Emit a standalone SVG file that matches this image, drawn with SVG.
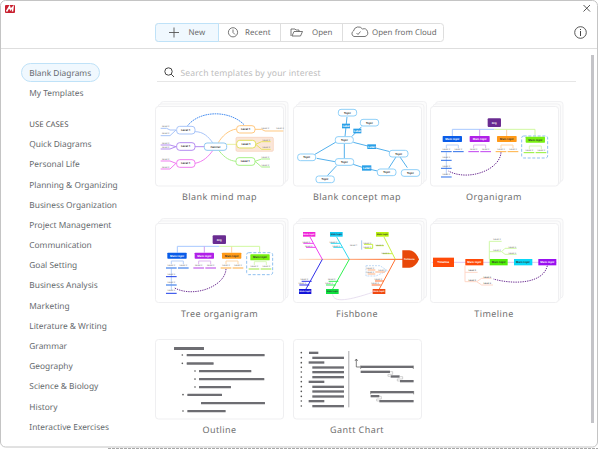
<svg xmlns="http://www.w3.org/2000/svg" width="600" height="449" viewBox="0 0 600 449">
<style>
text{font-family:"Noto Sans","Open Sans","Liberation Sans",sans-serif;text-rendering:geometricPrecision}
.side{font-size:8.35px;fill:#666a6e}
.tab{font-size:7.9px;fill:#6a6a6a;letter-spacing:.05px}
.cap{font-size:9px;fill:#707070;letter-spacing:.42px;text-anchor:middle}
.card{fill:#fff;stroke:#efeff1;stroke-width:1}
.back{fill:#fcfcfc;stroke:#f1f1f3;stroke-width:1}
.ico{fill:none;stroke:#555;stroke-width:1}
.t{font-size:8px;fill:#333;text-anchor:middle;font-weight:700}
.w{font-size:8px;fill:#fff;text-anchor:middle;font-weight:700}
.s{font-size:7px;fill:#777;text-anchor:middle}
.n{fill:#fff;stroke-width:3}
.l{fill:none;stroke-width:3}
.bar{fill:#6d6d72}
</style>
<rect width="600" height="449" fill="#fff"/>
<rect x="0.500" y="0.500" width="597" height="446.500" rx="5" fill="#fff" stroke="#c4c4c4"/>
<path d="M1 48.500H597" stroke="#dedede" stroke-width="1"/>
<path d="M108 448.500H598" stroke="#a8a8a8" stroke-width="1" stroke-dasharray="3 1"/>
<g id="logo"><rect x="5" y="5" width="10" height="8" rx="1" fill="#c8202f"/><path d="M6.500 11.500 9.500 6.500 10.500 9.500 13 7 12.500 11.500" fill="none" stroke="#fff" stroke-width="1.500"/></g>
<g id="close"><path d="M583.500 5 590 11.500M590 5 583.500 11.500" stroke="#444" stroke-width=".9"/></g>
<g id="info"><circle cx="580.500" cy="32.500" r="5.800" fill="none" stroke="#444" stroke-width=".9"/><path d="M580.500 31V36M580.500 29V30" stroke="#444" stroke-width="1"/></g>
<g id="toolbar">
<rect x="155.500" y="23.500" width="288" height="18" rx="3" fill="#fff" stroke="#dedede"/>
<path d="M155.500 26.500a3 3 0 0 1 3-3H218.500V41.500H158.500a3 3 0 0 1-3-3Z" fill="#f0f8fe" stroke="#bfe2f8"/>
<path d="M280.500 23.500V41.500M342.500 23.500V41.500" stroke="#dedede"/>
<path d="M169 32.500H179M174 27.500V37.500" stroke="#555" stroke-width=".9"/>
<text class="tab" x="188.500" y="35.300">New</text>
<circle cx="233" cy="32.300" r="4.600" fill="none" stroke="#555" stroke-width=".8"/><path d="M233 29.500V32.500L235 34.500" fill="none" stroke="#555" stroke-width=".8"/>
<text class="tab" x="245" y="35.300">Recent</text>
<path d="M291 36V29H295L296 30H299V31.500H294L292 36H300.500L302.500 31.500H299" fill="none" stroke="#555" stroke-width=".8"/>
<text class="tab" x="312" y="35.300">Open</text>
<path d="M354 36.500a3 3 0 0 1-.5-5.500 5 5 0 0 1 9-2 3.500 3.500 0 0 1 2.500 7.500ZM356.500 33l1.500 1.500 2.500-3" fill="none" stroke="#555" stroke-width=".8"/>
<text class="tab" x="372" y="35.300">Open from Cloud</text>
</g>
<g id="sidebar">
<rect x="21.500" y="63.500" width="78" height="18" rx="9" fill="#f0f8fe" stroke="#bfe2f8"/>
<text class="side" x="29.300" y="75.500">Blank Diagrams</text>
<text class="side" x="29.300" y="95.600">My Templates</text>
<text class="side" x="29.300" y="127.200" style="font-size:7.800px;fill:#555">USE CASES</text>
<text class="side" x="29.300" y="147.100">Quick Diagrams</text>
<text class="side" x="29.300" y="167.300">Personal Life</text>
<text class="side" x="29.300" y="187.500">Planning &amp; Organizing</text>
<text class="side" x="29.300" y="207.700">Business Organization</text>
<text class="side" x="29.300" y="227.800">Project Management</text>
<text class="side" x="29.300" y="248">Communication</text>
<text class="side" x="29.300" y="268.200">Goal Setting</text>
<text class="side" x="29.300" y="288.400">Business Analysis</text>
<text class="side" x="29.300" y="308.600">Marketing</text>
<text class="side" x="29.300" y="328.800">Literature &amp; Writing</text>
<text class="side" x="29.300" y="349">Grammar</text>
<text class="side" x="29.300" y="369.200">Geography</text>
<text class="side" x="29.300" y="389.400">Science &amp; Biology</text>
<text class="side" x="29.300" y="409.600">History</text>
<text class="side" x="29.300" y="429.800">Interactive Exercises</text>
</g>
<g id="search">
<circle cx="168.500" cy="71.500" r="3.700" fill="none" stroke="#444"/><path d="M171.200 74.200 174 77" fill="none" stroke="#444"/>
<text x="180.500" y="75.800" style="font-size:8.600px;fill:#bdbdbd;letter-spacing:.15px">Search templates by your interest</text>
<path d="M157 81.500H576" stroke="#e6e6e6"/>
</g>
<rect id="scrollbar" x="591" y="55" width="3" height="368" fill="#c4c4c8"/>

<g id="mindmap">
<rect class="back" x="160.500" y="101.500" width="127.500" height="80" rx="3"/><rect class="back" x="158" y="104" width="127.500" height="80" rx="3"/>
<rect class="card" x="155.500" y="106.500" width="128" height="79.500" rx="3"/>
<g transform="translate(150 95) scale(.3333)">
<path class="l" stroke="#4a90f0" stroke-dasharray="5 2" d="M113 92C150 45 240 45 283 90"/>
<path class="l" stroke="#a8c4f8" d="M135 110C160 110 175 125 188 143M78 105H60L50 100H32M78 105 60 122H32"/>
<path class="l" stroke="#b48cf0" d="M135 155H163M78 155 60 150H32M78 155 60 162H32"/>
<path class="l" stroke="#f07cf0" d="M135 205C160 200 175 185 188 167M78 205 60 198H32M78 205 60 222H32"/>
<path class="l" stroke="#ffc880" d="M260 102C235 105 215 125 205 143M315 103H335L345 108H400"/>
<path class="l" stroke="#e8f0a0" d="M230 148H258"/>
<path class="l" stroke="#a8f088" d="M207 167C225 190 240 197 258 199M315 199 335 192H360M315 199 335 216H360"/>
<rect x="258" y="127" width="112" height="42" rx="4" fill="#fbe6d8" stroke="#f5cdb8" stroke-width="2"/>
<path class="l" stroke="#e8e060" d="M317 148 335 140H362M317 148 335 163H362"/>
<rect class="n" x="80" y="94" width="55" height="23" rx="9" stroke="#a8c4f8"/><text class="t" x="107" y="108">Level 1</text>
<rect class="n" x="80" y="143" width="55" height="23" rx="9" stroke="#b48cf0"/><text class="t" x="107" y="157">Level 1</text>
<rect class="n" x="80" y="194" width="55" height="23" rx="9" stroke="#f07cf0"/><text class="t" x="107" y="208">Level 1</text>
<rect class="n" x="163" y="144" width="67" height="22" rx="8" stroke="#90c8f0"/><text class="t" x="196" y="158">Central</text>
<rect class="n" x="260" y="92" width="55" height="22" rx="9" stroke="#ffc880"/><text class="t" x="287" y="106">Level 1</text>
<rect class="n" x="260" y="136" width="57" height="23" rx="9" stroke="#e0e060"/><text class="t" x="288" y="150">Level 1</text>
<rect class="n" x="258" y="188" width="57" height="23" rx="9" stroke="#a8f088"/><text class="t" x="286" y="202">Level 1</text>
<text class="s" x="47" y="97">Level 2</text><text class="s" x="47" y="118">Level 2</text><text class="s" x="47" y="146">Level 2</text><text class="s" x="47" y="159">Level 2</text><text class="s" x="47" y="195">Level 2</text><text class="s" x="47" y="218">Level 2</text><text class="s" x="346" y="103">Level 2</text><text class="s" x="390" y="103">Level 3</text><text class="s" x="349" y="137">Level 2</text><text class="s" x="349" y="159">Level 2</text><text class="s" x="346" y="190">Level 2</text><text class="s" x="346" y="212">Level 2</text>
</g>
<text class="cap" x="219.500" y="199.500">Blank mind map</text>
</g>

<g id="conceptmap">
<rect class="back" x="298.500" y="101.500" width="128" height="80" rx="3"/><rect class="back" x="296" y="104" width="128" height="80" rx="3"/>
<rect class="card" x="293.500" y="106.500" width="128" height="79.500" rx="3"/>
<g transform="translate(290 95) scale(.3333)">
<path class="l" stroke="#52b0ec" d="M165 125 171 66M185 125 215 95M190 142 300 170M140 140 75 178M163 146V190M135 200 80 190M165 200 220 218 262 228M140 212 112 242M318 186 296 220M330 186 352 218"/>
<g fill="#2aa0e8"><rect x="156" y="86" width="24" height="14"/><rect x="190" y="101" width="24" height="14"/><rect x="232" y="148" width="26" height="14"/><rect x="216" y="211" width="28" height="16"/></g>
<text class="w" x="168" y="96">Label</text><text class="w" x="202" y="111">Label</text><text class="w" x="245" y="158">Label</text><text class="w" x="230" y="222">Label</text>
<g stroke="#90d0f8"><rect class="n" x="145" y="43" width="55" height="20" rx="8"/><rect class="n" x="211" y="73" width="55" height="20" rx="8"/><rect class="n" x="136" y="125" width="54" height="20" rx="8"/><rect class="n" x="298" y="166" width="56" height="20" rx="8"/><rect class="n" x="23" y="177" width="54" height="20" rx="8"/><rect class="n" x="136" y="191" width="55" height="20" rx="8"/><rect class="n" x="262" y="222" width="56" height="20" rx="8"/><rect class="n" x="334" y="224" width="55" height="20" rx="8"/><rect class="n" x="78" y="243" width="55" height="20" rx="8"/></g>
<text class="t" x="172" y="56">Topic</text><text class="t" x="238" y="86">Topic</text><text class="t" x="163" y="138">Topic</text><text class="t" x="326" y="179">Topic</text><text class="t" x="50" y="190">Topic</text><text class="t" x="163" y="204">Topic</text><text class="t" x="290" y="235">Topic</text><text class="t" x="361" y="237">Topic</text><text class="t" x="105" y="256">Topic</text>
</g>
<text class="cap" x="357" y="199.500">Blank concept map</text>
</g>

<g id="organigram">
<rect class="back" x="435.500" y="101.500" width="127.500" height="80" rx="3"/><rect class="back" x="433" y="104" width="127.500" height="80" rx="3"/>
<rect class="card" x="430.500" y="106.500" width="128" height="79.500" rx="3"/>
<g transform="translate(425 95) scale(.3333)">
<path class="l" stroke="#a8c8ff" d="M82 123V103H208"/><path class="l" stroke="#d0a0f0" d="M164 123V103"/><path class="l" stroke="#ffd0a0" d="M245 123V103"/><path class="l" stroke="#d0f8a0" d="M208 103H330V123"/>
<rect x="290" y="123" width="78" height="66" rx="6" fill="#fff" stroke="#90c0f0" stroke-width="3" stroke-dasharray="9 5"/>
<rect x="188" y="70" width="40" height="26" rx="3" fill="#6a2c91"/><text class="w" x="208" y="87">Org</text>
<rect x="53" y="123" width="58" height="18" rx="2" fill="#0a5ce8"/><text class="w" x="82" y="135">Main topic</text>
<rect x="134" y="123" width="60" height="18" rx="2" fill="#b020e8"/><text class="w" x="164" y="135">Main topic</text>
<rect x="216" y="123" width="59" height="18" rx="2" fill="#ff9a18"/><text class="t" x="245" y="135">Main topic</text>
<rect x="302" y="125" width="58" height="18" rx="2" fill="#78f010"/><text class="t" x="331" y="137">Main topic</text>
<path class="l" stroke="#b8d0f8" d="M64 160V150H100V160M64 172V240"/><path class="l" stroke="#e0b8f0" d="M146 160V150H182V160"/><path class="l" stroke="#ffd8a8" d="M228 160V150H264V160"/><path class="l" stroke="#d8f8b8" d="M313 163V153H349V163"/>
<path class="l" stroke="#2a6ce8" d="M48 170H80M84 170H116M48 196H80M48 220H80M48 246H80"/><path class="l" stroke="#c040f0" d="M130 170H162M166 170H198"/><path class="l" stroke="#ffb040" d="M212 170H244M248 170H280"/><path class="l" stroke="#90f030" d="M296 173H328M332 173H364"/>
<text class="s" x="64" y="164">Level 2</text><text class="s" x="100" y="164">Level 2</text><text class="s" x="146" y="164">Level 2</text><text class="s" x="182" y="164">Level 2</text><text class="s" x="228" y="164">Level 2</text><text class="s" x="264" y="164">Level 2</text><text class="s" x="313" y="167">Level 2</text><text class="s" x="349" y="167">Level 2</text><text class="s" x="64" y="190">Level 3</text><text class="s" x="64" y="215">Level 2</text><text class="s" x="64" y="240">Level 3</text>
<path class="l" stroke="#6a2c91" stroke-dasharray="4 3" d="M228 172C225 225 130 260 70 228"/>
</g>
<text class="cap" x="494" y="199.500">Organigram</text>
</g>

<g id="tree">
<rect class="back" x="160.500" y="218.500" width="127.500" height="79.500" rx="3"/><rect class="back" x="158" y="221" width="127.500" height="79.500" rx="3"/>
<rect class="card" x="155.500" y="223.500" width="128" height="79" rx="3"/>
<g transform="translate(150 215) scale(.3333)">
<path class="l" stroke="#a8c8ff" d="M82 113V94H208"/><path class="l" stroke="#d0a0f0" d="M163 113V94"/><path class="l" stroke="#ffd0a0" d="M245 113V94"/><path class="l" stroke="#d0f8a0" d="M208 94H329V113"/>
<rect x="290" y="113" width="78" height="66" rx="6" fill="#fff" stroke="#90c0f0" stroke-width="3" stroke-dasharray="9 5"/>
<rect x="188" y="61" width="40" height="26" rx="3" fill="#6a2c91"/><text class="w" x="208" y="78">Org</text>
<rect x="52" y="113" width="58" height="18" rx="2" fill="#0a5ce8"/><text class="w" x="81" y="125">Main topic</text>
<rect x="134" y="113" width="58" height="18" rx="2" fill="#b020e8"/><text class="w" x="163" y="125">Main topic</text>
<rect x="216" y="113" width="58" height="18" rx="2" fill="#ff9a18"/><text class="t" x="245" y="125">Main topic</text>
<rect x="301" y="118" width="58" height="18" rx="2" fill="#78f010"/><text class="t" x="330" y="130">Main topic</text>
<path class="l" stroke="#b8d0f8" d="M64 148V138H100V148M64 160V225"/><path class="l" stroke="#e0b8f0" d="M146 148V138H182V148"/><path class="l" stroke="#ffd8a8" d="M228 148V138H264V148"/><path class="l" stroke="#d8f8b8" d="M313 150V140H349V150"/>
<path stroke="#6a9cf0" stroke-width="5" fill="none" d="M48 159H80M84 159H116M48 210H80"/><path stroke="#1a3ce8" stroke-width="3" fill="none" d="M48 185H80M48 235H80"/><path stroke="#d080f0" stroke-width="5" fill="none" d="M130 159H162M166 159H198"/><path stroke="#ffc880" stroke-width="5" fill="none" d="M212 159H244M248 159H280"/><path stroke="#c0f080" stroke-width="5" fill="none" d="M296 162H328M332 162H364"/>
<text class="s" x="64" y="153">Level 2</text><text class="s" x="100" y="153">Level 2</text><text class="s" x="146" y="153">Level 2</text><text class="s" x="182" y="153">Level 2</text><text class="s" x="228" y="153">Level 2</text><text class="s" x="264" y="153">Level 2</text><text class="s" x="313" y="155">Level 2</text><text class="s" x="349" y="155">Level 2</text><text class="s" x="64" y="179">Level 3</text><text class="s" x="64" y="204">Level 2</text><text class="s" x="64" y="229">Level 3</text>
<path class="l" stroke="#6a2c91" stroke-dasharray="4 3" d="M228 162C225 215 130 250 72 218"/>
</g>
<text class="cap" x="219.500" y="316.500">Tree organigram</text>
</g>

<g id="fishbone">
<rect class="back" x="298.500" y="218.500" width="128" height="79.500" rx="3"/><rect class="back" x="296" y="221" width="128" height="79.500" rx="3"/>
<rect class="card" x="293.500" y="223.500" width="128" height="79" rx="3"/>
<g transform="translate(290 215) scale(.3333)">
<defs><linearGradient id="spine" gradientUnits="userSpaceOnUse" x1="27" y1="0" x2="340" y2="0"><stop offset="0" stop-color="#ffdcc0"/><stop offset="1" stop-color="#ff5a10"/></linearGradient></defs>
<path d="M27 133H340" fill="none" stroke="url(#spine)" stroke-width="3"/>
<path class="l" stroke="#f040f0" d="M60 66 97 133M40 85H70M48 97H78"/>
<path class="l" stroke="#30d8f0" d="M140 66 178 133M122 85H150M130 97H158"/>
<path class="l" stroke="#c8f040" d="M282 66 316 133M258 92H282M222 88H248V100H224M278 116H306"/>
<path class="l" stroke="#3030e8" d="M97 133 48 222M35 199H65M28 210H58"/>
<path class="l" stroke="#30f050" d="M178 133 128 222M116 199H145M108 210H137"/>
<path class="l" stroke="#ff7030" d="M316 133 268 222M255 198H282M245 210H272"/>
<path class="l" stroke="#a8c8f0" d="M215 76V104"/>
<path fill="#fff" stroke="#a8c8f0" stroke-width="2" stroke-dasharray="6 3" d="M228 152H270L292 167 258 183H228Z"/>
<path class="l" stroke="#ffb080" d="M233 165H256M233 177H256M256 171H285"/>
<path fill="none" stroke="#ddd0e8" stroke-width="2" d="M128 238C130 265 180 255 248 232"/>
<rect x="39" y="51" width="37" height="14" fill="#f020d8"/><rect x="120" y="51" width="38" height="14" fill="#10c8f0"/><rect x="258" y="51" width="38" height="14" fill="#b8f010"/>
<rect x="27" y="222" width="37" height="15" fill="#1414d8"/><rect x="108" y="222" width="38" height="15" fill="#10e040"/><rect x="248" y="222" width="38" height="15" fill="#f04810"/>
<text class="w" x="57" y="60" style="font-size:6.500px">Main topic</text><text class="t" x="139" y="60" style="font-size:6.500px">Main topic</text><text class="t" x="277" y="60" style="font-size:6.500px">Main topic</text><text class="w" x="45" y="232" style="font-size:6.500px">Main topic</text><text class="t" x="127" y="232" style="font-size:6.500px">Main topic</text><text class="w" x="267" y="232" style="font-size:6.500px">Main topic</text>
<text class="s" x="49" y="83">Level 2</text><text class="s" x="56" y="97">Level 3</text><text class="s" x="130" y="83">Level 2</text><text class="s" x="139" y="97">Level 3</text><text class="s" x="191" y="93">Level 1</text><text class="s" x="232" y="86">Level 2</text><text class="s" x="232" y="100">Level 2</text><text class="s" x="268" y="93">Level 2</text><text class="s" x="286" y="116">Level 3</text><text class="s" x="43" y="195">Level 2</text><text class="s" x="37" y="208">Level 3</text><text class="s" x="125" y="196">Level 2</text><text class="s" x="117" y="208">Level 3</text><text class="s" x="265" y="195">Level 2</text><text class="s" x="255" y="208">Level 3</text><text class="s" x="241" y="162">Level 2</text><text class="s" x="276" y="168">Level 2</text><text class="s" x="241" y="174">Level 2</text>
<path d="M337 106H358C372 106 382 120 387 133 382 146 372 158 358 158H337Z" fill="#e84808"/>
<text class="w" x="358" y="135" style="font-size:7px">Fishbone</text>
</g>
<text class="cap" x="357" y="316.500">Fishbone</text>
</g>

<g id="timeline">
<rect class="back" x="435.500" y="218.500" width="127.500" height="79.500" rx="3"/><rect class="back" x="433" y="221" width="127.500" height="79.500" rx="3"/>
<rect class="card" x="430.500" y="223.500" width="128" height="79" rx="3"/>
<g transform="translate(425 215) scale(.3333)">
<path class="l" stroke="#e0c8f0" d="M20 142H395"/>
<path class="l" stroke="#d0f8a8" d="M193 132V79H230M193 110H230M230 110 240 100H275M230 110 240 118H275"/>
<path class="l" stroke="#ffd8c8" d="M120 152V200H155M120 172H158M155 200 170 190H200M155 200 170 210H204"/>
<rect x="24" y="128" width="63" height="28" fill="#ff4a08"/><text class="w" x="55" y="145">Timeline</text>
<rect x="121" y="132" width="54" height="19" fill="#ff4a08"/><text class="w" x="148" y="145">Main topic</text>
<rect x="194" y="132" width="54" height="19" fill="#50ee08"/><text class="t" x="221" y="145">Main topic</text>
<rect x="267" y="132" width="55" height="19" fill="#08d8f8"/><text class="t" x="294" y="145">Main topic</text>
<rect x="340" y="132" width="54" height="19" fill="#9a10f0"/><text class="w" x="367" y="145">Main topic</text>
<text class="s" x="216" y="76">Level 2</text><text class="s" x="216" y="107">Level 2</text><text class="s" x="262" y="98">Level 3</text><text class="s" x="262" y="116">Level 3</text><text class="s" x="142" y="168" style="fill:#333">Level 2</text><text class="s" x="142" y="198" style="fill:#333">Level 2</text><text class="s" x="187" y="188" style="fill:#333">Level 3</text><text class="s" x="187" y="207" style="fill:#333">Level 3</text>
<path class="l" stroke="#6a2c91" stroke-dasharray="4 3" d="M367 152C355 205 270 210 205 192"/>
</g>
<text class="cap" x="494" y="316.500">Timeline</text>
</g>

<g id="outline">
<rect class="card" x="155.500" y="339.500" width="128" height="79.500" rx="3"/>
<g transform="translate(150 335) scale(.3333)">
<rect class="bar" x="72" y="36" width="90" height="9" rx="1"/>
<rect class="bar" x="110" y="57" width="234" height="7" rx="1"/><rect class="bar" x="110" y="82" width="81" height="7" rx="1"/><rect class="bar" x="147" y="105" width="157" height="7" rx="1"/><rect class="bar" x="147" y="129" width="196" height="7" rx="1"/><rect class="bar" x="147" y="153" width="96" height="7" rx="1"/><rect class="bar" x="112" y="176" width="104" height="7" rx="1"/><rect class="bar" x="153" y="201" width="192" height="7" rx="1"/><rect class="bar" x="112" y="225" width="115" height="7" rx="1"/>
<g fill="#555"><circle cx="97" cy="60" r="2.500"/><circle cx="97" cy="85" r="2.500"/><circle cx="135" cy="108" r="2.500"/><circle cx="135" cy="132" r="2.500"/><circle cx="135" cy="156" r="2.500"/><circle cx="99" cy="179" r="2.500"/><circle cx="99" cy="228" r="2.500"/></g>
</g>
<text class="cap" x="219.500" y="433">Outline</text>
</g>

<g id="gantt">
<rect class="card" x="293.500" y="339.500" width="128" height="79.500" rx="3"/>
<g transform="translate(150 335) scale(.3333)">
<g fill="#555"><circle cx="454" cy="53" r="2.500"/><circle cx="454" cy="68" r="2.500"/><circle cx="454" cy="83" r="2.500"/><circle cx="454" cy="97" r="2.500"/><circle cx="454" cy="111" r="2.500"/><circle cx="454" cy="126" r="2.500"/><circle cx="454" cy="140" r="2.500"/><circle cx="454" cy="155" r="2.500"/><circle cx="454" cy="169" r="2.500"/><circle cx="454" cy="184" r="2.500"/><circle cx="454" cy="198" r="2.500"/><circle cx="454" cy="213" r="2.500"/></g>
<rect class="bar" x="477" y="50" width="28" height="7"/><rect class="bar" x="487" y="65" width="95" height="7"/><rect class="bar" x="476" y="79" width="47" height="7"/><rect class="bar" x="487" y="94" width="95" height="7"/><rect class="bar" x="487" y="108" width="95" height="7"/><rect class="bar" x="487" y="123" width="95" height="7"/><rect class="bar" x="476" y="137" width="47" height="7"/><rect class="bar" x="487" y="152" width="95" height="7"/><rect class="bar" x="487" y="166" width="95" height="7"/><rect class="bar" x="487" y="181" width="95" height="7"/><rect class="bar" x="476" y="195" width="47" height="7"/><rect class="bar" x="487" y="210" width="95" height="7"/>
<rect x="595" y="48" width="3" height="169" fill="#a8a8ac"/>
<path d="M619 96V73M615 78 619 72 623 78" fill="none" stroke="#444" stroke-width="2"/><path d="M619 96H630" stroke="#444" stroke-width="2"/>
<rect class="bar" x="632" y="92" width="158" height="7"/><path d="M632 92V102M790 92V102" stroke="#666" stroke-width="2"/>
<rect class="bar" x="632" y="107" width="88" height="7"/><rect class="bar" x="722" y="121" width="27" height="7"/><rect class="bar" x="750" y="135" width="41" height="7"/>
<path d="M720 110H728V118H714V124H722M749 125H758V132H742V138H750M662 184H694V192H680V198H688" fill="none" stroke="#bbb" stroke-width="2"/>
<rect class="bar" x="662" y="168" width="129" height="7"/><path d="M662 168V178M791 168V178" stroke="#666" stroke-width="2"/>
<rect class="bar" x="662" y="180" width="26" height="7"/><rect class="bar" x="688" y="195" width="103" height="7"/>
</g>
<text class="cap" x="357" y="433">Gantt Chart</text>
</g>
</svg>
